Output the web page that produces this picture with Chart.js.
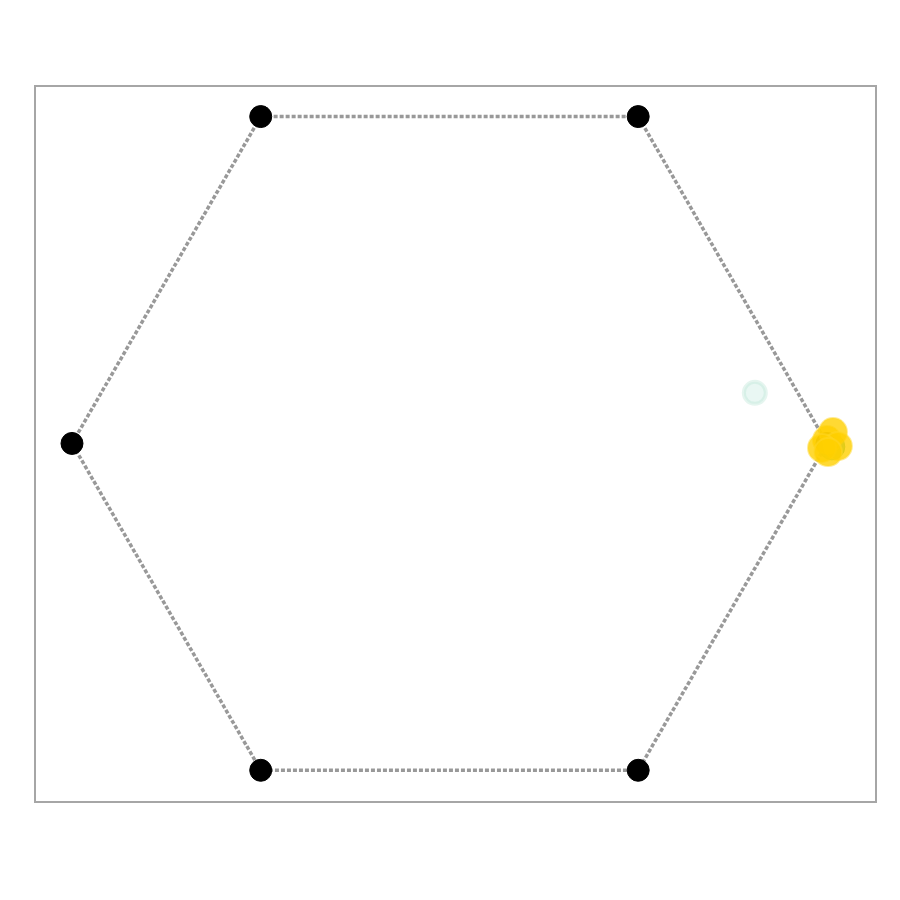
<!DOCTYPE html>
<html>
<head>
<meta charset="utf-8">
<script src="https://cdn.jsdelivr.net/npm/chart.js@4/dist/chart.umd.min.js"></script>
<style>
	html, body { margin: 0; padding: 0; background: #fff; }
	#wrap { width: 900px; height: 900px; }
</style>
</head>
<body>
<div id="wrap"><canvas id="hexChart"></canvas></div>
<script>
// hexagon corners (unit circle), closed loop
const hexX = [1, 0.5, -0.5, -1, -0.5, 0.5, 1];
const hexY = [0, 0.866, 0.866, 0, -0.866, -0.866, 0];

// points near the right corner
const goldX = [1.0, 1.016, 1.029, 0.987, 1.003];
const goldY = [0.009, 0.030, -0.007, -0.012, -0.023];
const greenX = [1.013];
const greenY = [-0.009];
const faintX = [0.809];
const faintY = [0.134];

function pts(xs, ys) {
	return xs.map((x, i) => ({ x: x, y: ys[i] }));
}

// frame around the plot area
const framePlugin = {
	id: 'frame',
	afterDraw(chart) {
		const a = chart.chartArea;
		const ctx = chart.ctx;
		ctx.save();
		ctx.strokeStyle = '#a6a6a6';
		ctx.lineWidth = 2;
		ctx.strokeRect(a.left, a.top, a.right - a.left, a.bottom - a.top);
		ctx.restore();
	}
};

const ctx = document.getElementById('hexChart').getContext('2d');
new Chart(ctx, {
	type: 'scatter',
	data: {
		datasets: [
			{
				label: 'faint',
				data: pts(faintX, faintY),
				backgroundColor: 'rgba(200, 235, 225, 0.4)',
				borderColor: 'rgba(180, 225, 210, 0.35)',
				borderWidth: 4,
				pointRadius: 11,
				order: 1
			},
			{
				label: 'green',
				data: pts(greenX, greenY),
				backgroundColor: 'rgba(80, 180, 100, 0.8)',
				borderColor: 'rgba(80, 180, 100, 0.8)',
				pointRadius: 13,
				order: 1
			},
			{
				label: 'gold',
				data: pts(goldX, goldY),
				backgroundColor: 'rgba(255, 208, 0, 0.8)',
				borderColor: 'rgba(255, 215, 40, 0.5)',
				borderWidth: 2,
				pointRadius: 14,
				order: 0
			},
			{
				label: 'corners',
				data: pts(hexX.slice(0, 6), hexY.slice(0, 6)),
				backgroundColor: '#000',
				borderColor: '#000',
				pointRadius: 11,
				order: 2
			},
			{
				label: 'hexagon',
				data: pts(hexX, hexY),
				showLine: true,
				borderColor: '#999999',
				borderWidth: 3.5,
				borderDash: [4, 2],
				pointRadius: 0,
				order: 3
			}
		]
	},
	options: {
		responsive: true,
		maintainAspectRatio: false,
		animation: false,
		layout: {
			padding: { left: 35, right: 24, top: 86, bottom: 98 }
		},
		plugins: {
			legend: { display: false },
			tooltip: { enabled: false }
		},
		scales: {
			x: {
				type: 'linear',
				min: -1.098,
				max: 1.13,
				display: false
			},
			y: {
				type: 'linear',
				min: -0.95,
				max: 0.947,
				display: false
			}
		}
	},
	plugins: [framePlugin]
});
</script>
</body>
</html>
